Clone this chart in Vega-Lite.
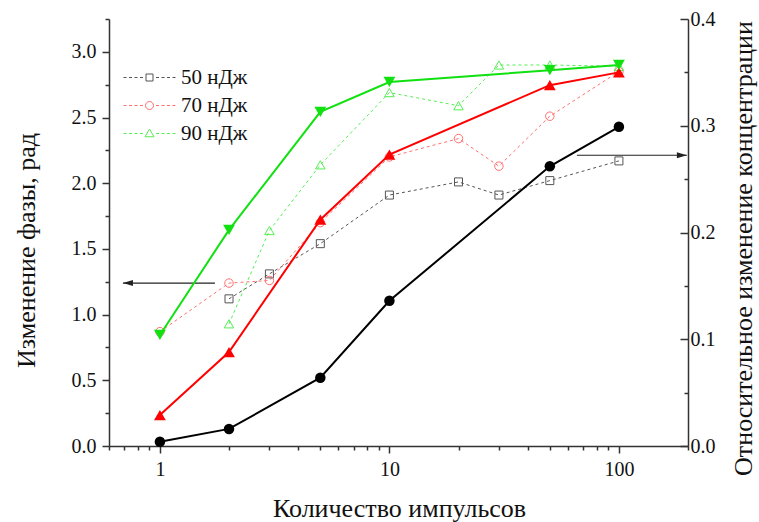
{
  "$schema": "https://vega.github.io/schema/vega-lite/v6.json",
  "width": 579,
  "height": 427,
  "autosize": {"type": "none"},
  "padding": {"left": 109, "top": 19, "right": 71, "bottom": 76},
  "background": "white",
  "config": {
    "view": {"stroke": null},
    "font": "Liberation Serif, Times New Roman, serif",
    "axis": {
      "grid": false,
      "labelFont": "Liberation Serif, Times New Roman, serif",
      "labelFontSize": 20,
      "labelColor": "#111111",
      "titleFont": "Liberation Serif, Times New Roman, serif",
      "titleFontSize": 26,
      "titleFontWeight": "normal",
      "titleColor": "#111111",
      "domainColor": "#333333",
      "domainWidth": 1.5,
      "tickColor": "#333333",
      "tickWidth": 1.5
    },
    "legend": {
      "labelFont": "Liberation Serif, Times New Roman, serif"
    }
  },
  "datasets": {
    "phase": [
      {"n": 2, "s": "50 нДж", "v": 1.12},
      {"n": 3, "s": "50 нДж", "v": 1.31},
      {"n": 5, "s": "50 нДж", "v": 1.54},
      {"n": 10, "s": "50 нДж", "v": 1.91},
      {"n": 20, "s": "50 нДж", "v": 2.01},
      {"n": 30, "s": "50 нДж", "v": 1.91},
      {"n": 50, "s": "50 нДж", "v": 2.02},
      {"n": 100, "s": "50 нДж", "v": 2.17},
      {"n": 1, "s": "70 нДж", "v": 0.87},
      {"n": 2, "s": "70 нДж", "v": 1.24},
      {"n": 3, "s": "70 нДж", "v": 1.26},
      {"n": 5, "s": "70 нДж", "v": 1.70},
      {"n": 10, "s": "70 нДж", "v": 2.20},
      {"n": 20, "s": "70 нДж", "v": 2.34},
      {"n": 30, "s": "70 нДж", "v": 2.13},
      {"n": 50, "s": "70 нДж", "v": 2.51},
      {"n": 100, "s": "70 нДж", "v": 2.85},
      {"n": 2, "s": "90 нДж", "v": 0.93},
      {"n": 3, "s": "90 нДж", "v": 1.64},
      {"n": 5, "s": "90 нДж", "v": 2.14},
      {"n": 10, "s": "90 нДж", "v": 2.69},
      {"n": 20, "s": "90 нДж", "v": 2.59},
      {"n": 30, "s": "90 нДж", "v": 2.90},
      {"n": 50, "s": "90 нДж", "v": 2.90},
      {"n": 100, "s": "90 нДж", "v": 2.89}
    ],
    "conc": [
      {"n": 1, "s": "c50", "v": 0.004},
      {"n": 2, "s": "c50", "v": 0.016},
      {"n": 5, "s": "c50", "v": 0.064},
      {"n": 10, "s": "c50", "v": 0.136},
      {"n": 50, "s": "c50", "v": 0.262},
      {"n": 100, "s": "c50", "v": 0.299},
      {"n": 1, "s": "c70", "v": 0.029},
      {"n": 2, "s": "c70", "v": 0.088},
      {"n": 5, "s": "c70", "v": 0.212},
      {"n": 10, "s": "c70", "v": 0.273},
      {"n": 50, "s": "c70", "v": 0.338},
      {"n": 100, "s": "c70", "v": 0.350},
      {"n": 1, "s": "c90", "v": 0.104},
      {"n": 2, "s": "c90", "v": 0.2025},
      {"n": 5, "s": "c90", "v": 0.313},
      {"n": 10, "s": "c90", "v": 0.341},
      {"n": 50, "s": "c90", "v": 0.352},
      {"n": 100, "s": "c90", "v": 0.357}
    ],
    "arrows": [
      {"n": 0.69, "n2": 1.737, "v": 1.24, "dir": "left"},
      {"n": 197.8, "n2": 65.6, "v": 2.213, "dir": "right"}
    ]
  },
  "encoding": {
    "x": {
      "field": "n",
      "type": "quantitative",
      "scale": {"type": "log", "domain": [0.6, 200], "nice": false},
      "axis": {
        "title": "Количество импульсов",
        "values": [0.6, 0.7, 0.8, 0.9, 1, 2, 3, 4, 5, 6, 7, 8, 9, 10, 20, 30, 40, 50, 60, 70, 80, 90, 100, 200],
        "labelExpr": "(datum.value == 1 || datum.value == 10 || datum.value == 100) ? ('' + datum.value) : ''",
        "tickSize": {"condition": {"test": "datum.value == 1 || datum.value == 10 || datum.value == 100", "value": 7}, "value": 4},
        "labelPadding": 6,
        "labelFlush": false,
        "labelOverlap": false,
        "titleX": 290,
        "titleY": 70,
        "titleAlign": "center",
        "titleBaseline": "alphabetic"
      }
    }
  },
  "layer": [
    {
      "data": {"name": "phase"},
      "encoding": {
        "y": {
          "field": "v",
          "type": "quantitative",
          "scale": {"domain": [0, 3.25], "nice": false, "zero": false},
          "axis": {
            "orient": "left",
            "title": "Изменение фазы, рад",
            "values": [0, 0.25, 0.5, 0.75, 1, 1.25, 1.5, 1.75, 2, 2.25, 2.5, 2.75, 3, 3.25],
            "labelExpr": "abs(datum.value * 2 - round(datum.value * 2)) < 0.001 ? format(datum.value, '.1f') : ''",
            "tickSize": {"condition": {"test": "abs(datum.value * 2 - round(datum.value * 2)) < 0.001", "value": 7}, "value": 4},
            "labelPadding": 6,
            "labelFlush": false,
            "labelOverlap": false,
            "titleAngle": -90,
            "titleX": -75,
            "titleY": 231,
            "titleAlign": "center",
            "titleBaseline": "alphabetic"
          }
        }
      },
      "layer": [
        {
          "mark": {"type": "line", "strokeDash": [3, 3], "strokeWidth": 1},
          "encoding": {
            "color": {
              "field": "s", "type": "nominal", "legend": null,
              "scale": {
                "domain": ["50 нДж", "70 нДж", "90 нДж", "c50", "c70", "c90"],
                "range": ["#555555", "#ff6f6f", "#55ee55", "#000000", "#ff0000", "#11e011"]
              }
            }
          }
        },
        {
          "transform": [{"filter": "datum.s == '50 нДж'"}],
          "mark": {"type": "point", "shape": "square", "filled": false, "size": 64, "strokeWidth": 1, "opacity": 1},
          "encoding": {"color": {"field": "s", "type": "nominal", "legend": null}}
        },
        {
          "transform": [{"filter": "datum.s == '70 нДж'"}],
          "mark": {"type": "point", "shape": "circle", "filled": false, "size": 72, "strokeWidth": 1, "opacity": 1},
          "encoding": {"color": {"field": "s", "type": "nominal", "legend": null}}
        },
        {
          "transform": [{"filter": "datum.s == '90 нДж'"}],
          "mark": {"type": "point", "shape": "triangle-up", "filled": false, "size": 90, "strokeWidth": 1, "opacity": 1},
          "encoding": {"color": {"field": "s", "type": "nominal", "legend": null}}
        },
        {
          "mark": {"type": "point", "opacity": 0, "size": 100, "filled": false},
          "encoding": {
            "stroke": {
              "field": "s",
              "type": "nominal",
              "scale": {
                "domain": ["50 нДж", "70 нДж", "90 нДж"],
                "range": ["#555555", "#ff6f6f", "#55ee55"]
              },
              "legend": {
                "orient": "none",
                "legendX": 30,
                "legendY": 48,
                "title": null,
                "padding": 0,
                "symbolSize": 100,
                "labelFontSize": 21,
                "labelColor": "#111111",
                "labelOffset": 21,
                "rowPadding": 6,
                "symbolStrokeWidth": 1,
                "symbolOpacity": 1,
                "symbolFillColor": "white"
              }
            },
            "shape": {
              "field": "s",
              "type": "nominal",
              "scale": {
                "domain": ["50 нДж", "70 нДж", "90 нДж"],
                "range": [
                  "M-5.2,0H-4.6M-4.1,0H-3.5M-3,0H-2.4M-1.9,0H-1.3M1.3,0H1.9M2.4,0H3M3.5,0H4.1M4.6,0H5.2M-0.7,-0.7H0.7V0.7H-0.7Z",
                  "M-5.2,0H-4.6M-4.1,0H-3.5M-3,0H-2.4M-1.9,0H-1.3M1.3,0H1.9M2.4,0H3M3.5,0H4.1M4.6,0H5.2M0.8,0A0.8,0.8 0 1,1 -0.8,0A0.8,0.8 0 1,1 0.8,0Z",
                  "M-5.2,0H-4.6M-4.1,0H-3.5M-3,0H-2.4M-1.9,0H-1.3M1.3,0H1.9M2.4,0H3M3.5,0H4.1M4.6,0H5.2M0,-0.9L0.9,0.65H-0.9Z"
                ]
              },
              "legend": {
                "orient": "none",
                "legendX": 30,
                "legendY": 48,
                "title": null,
                "padding": 0,
                "symbolSize": 100,
                "labelFontSize": 21,
                "labelColor": "#111111",
                "labelOffset": 21,
                "rowPadding": 6,
                "symbolStrokeWidth": 1,
                "symbolOpacity": 1,
                "symbolFillColor": "white"
              }
            }
          }
        },
        {
          "data": {"name": "arrows"},
          "mark": {"type": "rule", "color": "#222222", "strokeWidth": 1.2},
          "encoding": {"x2": {"field": "n2"}}
        },
        {
          "data": {"name": "arrows"},
          "transform": [{"filter": "datum.dir == 'left'"}],
          "mark": {"type": "point", "shape": "M0,0L2,-0.6L2,0.6Z", "filled": true, "size": 100, "color": "#222222", "opacity": 1}
        },
        {
          "data": {"name": "arrows"},
          "transform": [{"filter": "datum.dir == 'right'"}],
          "mark": {"type": "point", "shape": "M0,0L-2,-0.6L-2,0.6Z", "filled": true, "size": 100, "color": "#222222", "opacity": 1}
        }
      ]
    },
    {
      "data": {"name": "conc"},
      "encoding": {
        "y": {
          "field": "v",
          "type": "quantitative",
          "scale": {"domain": [0, 0.4], "nice": false},
          "axis": {
            "orient": "right",
            "title": "Относительное изменение концентрации",
            "values": [0, 0.05, 0.1, 0.15, 0.2, 0.25, 0.3, 0.35, 0.4],
            "labelExpr": "abs(datum.value * 10 - round(datum.value * 10)) < 0.001 ? format(datum.value, '.1f') : ''",
            "tickSize": {"condition": {"test": "abs(datum.value * 10 - round(datum.value * 10)) < 0.001", "value": -8}, "value": -4},
            "labelPadding": 10,
            "labelFlush": false,
            "labelOverlap": false,
            "titleAngle": -90,
            "titleX": 63,
            "titleY": 229,
            "titleAlign": "center",
            "titleBaseline": "alphabetic"
          }
        }
      },
      "layer": [
        {
          "mark": {"type": "line", "strokeWidth": 2},
          "encoding": {"color": {"field": "s", "type": "nominal", "legend": null}}
        },
        {
          "transform": [{"filter": "datum.s == 'c50'"}],
          "mark": {"type": "point", "shape": "circle", "filled": true, "size": 110, "opacity": 1},
          "encoding": {"color": {"field": "s", "type": "nominal", "legend": null}}
        },
        {
          "transform": [{"filter": "datum.s == 'c70'"}],
          "mark": {"type": "point", "shape": "triangle-up", "filled": true, "size": 140, "opacity": 1},
          "encoding": {"color": {"field": "s", "type": "nominal", "legend": null}}
        },
        {
          "transform": [{"filter": "datum.s == 'c90'"}],
          "mark": {"type": "point", "shape": "triangle-down", "filled": true, "size": 140, "opacity": 1},
          "encoding": {"color": {"field": "s", "type": "nominal", "legend": null}}
        }
      ]
    }
  ],
  "resolve": {"scale": {"y": "independent"}, "axis": {"y": "independent"}}
}
